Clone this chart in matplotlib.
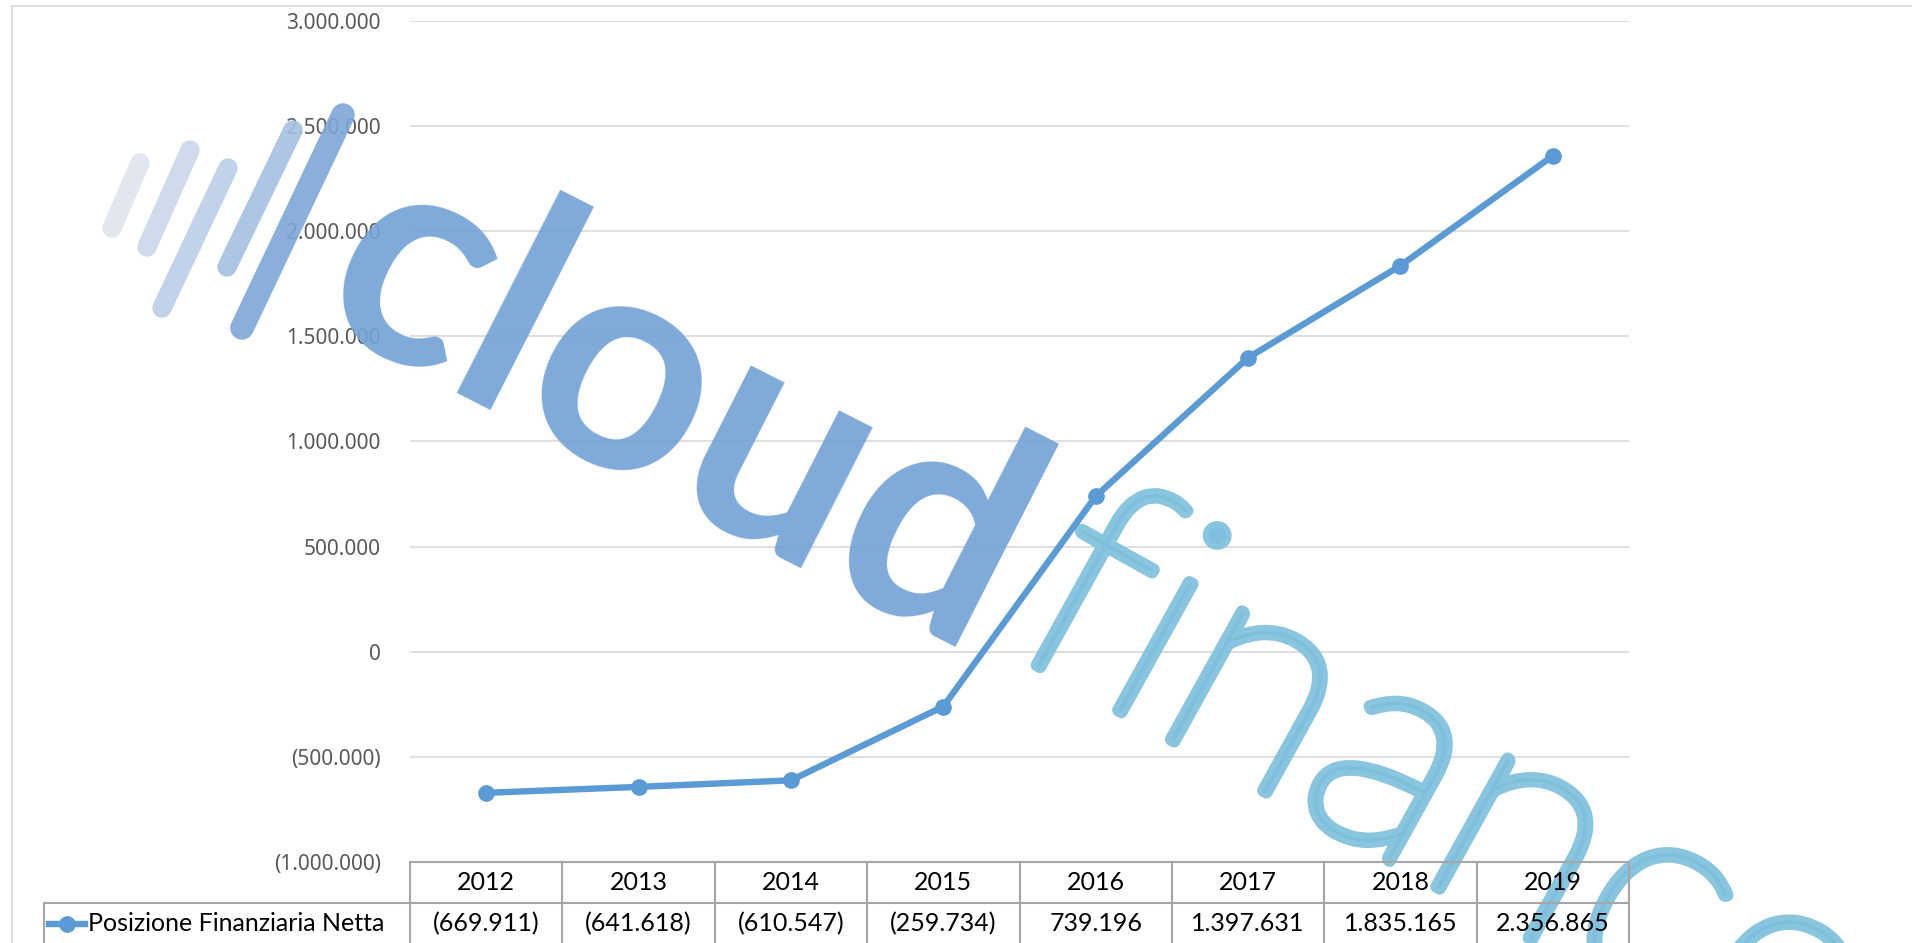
import matplotlib
matplotlib.use("Agg")
import matplotlib.pyplot as plt
import matplotlib.patheffects as pe
from matplotlib.lines import Line2D
from matplotlib.transforms import blended_transform_factory

# data
years = [2012, 2013, 2014, 2015, 2016, 2017, 2018, 2019]
pfn = [-669911, -641618, -610547, -259734, 739196, 1397631, 1835165, 2356865]
series_name = "Posizione Finanziaria Netta"
y_ticks = [-1000000, -500000, 0, 500000, 1000000, 1500000, 2000000, 2500000, 3000000]

LINE_C = "#5b9bd5"
GRID_C = "#d9d9d9"
TABLE_C = "#a6a6a6"
W, H = 1912, 943


def it_fmt(v):
    s = f"{abs(int(v)):,}".replace(",", ".")
    return f"({s})" if v < 0 else s


fig = plt.figure(figsize=(W / 100, H / 100), dpi=100)
fig.patch.set_facecolor("white")

# chart frame (only top and left edges are visible)
fig.add_artist(Line2D([12 / W, 1], [1 - 6 / H] * 2, transform=fig.transFigure, color=GRID_C, lw=1.2))
fig.add_artist(Line2D([12 / W] * 2, [0, 1 - 6 / H], transform=fig.transFigure, color=GRID_C, lw=1.2))

ax_l, ax_r, ax_t, ax_b = 410, 1629, 20.5, 862.3
ax = fig.add_axes([ax_l / W, 1 - ax_b / H, (ax_r - ax_l) / W, (ax_b - ax_t) / H])
x = list(range(len(years)))
ax.plot(x, pfn, color=LINE_C, lw=4.6, marker="o", ms=11, zorder=4, solid_capstyle="round")
ax.set_xlim(-0.5, len(years) - 0.5)
ax.set_ylim(y_ticks[0], y_ticks[-1])
ax.set_yticks(y_ticks)
ax.set_yticklabels([it_fmt(v) for v in y_ticks], family=["Noto Sans", "DejaVu Sans"],
                   fontsize=15, color="#595959")
ax.tick_params(axis="y", length=0, pad=21)
ax.set_xticks([])
ax.grid(axis="y", color=GRID_C, lw=1.2)
ax.set_axisbelow(True)
for sp in ax.spines.values():
    sp.set_visible(False)

# data table under the plot: columns follow the category axis
ax_h = ax_b - ax_t
row_h = 41 / ax_h
tr = blended_transform_factory(ax.transData, ax.transAxes)
tcfg = dict(color=TABLE_C, lw=1.5, clip_on=False, zorder=5)
ax.plot([-0.5, len(years) - 0.5], [0, 0], transform=tr, **tcfg)
ax.plot([-0.5, len(years) - 0.5], [-row_h, -row_h], transform=tr, **tcfg)
for i in range(len(years) + 1):
    ax.plot([i - 0.5, i - 0.5], [0, -2.2 * row_h], transform=tr, **tcfg)
leg_l = (44 - ax_l) / (ax_r - ax_l)
ax.plot([leg_l, 0], [-row_h, -row_h], transform=ax.transAxes, **tcfg)
ax.plot([leg_l, leg_l], [-row_h, -2.2 * row_h], transform=ax.transAxes, **tcfg)

tfont = dict(family="Lato", fontsize=18, color="black", clip_on=False, zorder=6)
for i, (yr, v) in enumerate(zip(years, pfn)):
    ax.text(i, -0.5 * row_h, str(yr), transform=tr, ha="center", va="center", **tfont)
    ax.text(i, -1.5 * row_h, it_fmt(v), transform=tr, ha="center", va="center", **tfont)

# legend key inside the table
px = lambda p: (p - ax_l) / (ax_r - ax_l)
ax.plot([px(49), px(85)], [-1.5 * row_h] * 2, transform=ax.transAxes, color=LINE_C, lw=4.6,
        clip_on=False, zorder=6)
ax.plot([px(67)], [-1.5 * row_h], transform=ax.transAxes, color=LINE_C, marker="o", ms=11,
        clip_on=False, zorder=6)
ax.text(px(88), -1.5 * row_h, series_name, transform=ax.transAxes, ha="left", va="center", **tfont)

# watermark logo
stripes = [((140, 163), (112, 228), "#dfe5ee", 14),
           ((190, 150), (147, 247), "#cad7e9", 14),
           ((228, 168), (162, 308), "#bccde6", 14),
           ((293, 130), (227, 267), "#a5bfe2", 14),
           ((343, 115), (242, 328), "#7ea6d8", 17)]
for (x0, y0), (x1, y1), c, w in stripes:
    fig.add_artist(Line2D([x0 / W, x1 / W], [1 - y0 / H, 1 - y1 / H], transform=fig.transFigure,
                          color=c, lw=w, solid_capstyle="round", alpha=0.9, zorder=3))
ax.text(px(680), 1 - (412 - ax_t) / ax_h, "cloud", transform=ax.transAxes,
        family="Lato", weight="bold", fontsize=220, color="#74a3d6", alpha=0.92,
        rotation=-27, rotation_mode="anchor", ha="center", va="center", clip_on=False, zorder=3)
fin_c = "#7dbfdc"
ax.text(px(1006), 1 - (648 - ax_t) / ax_h, "finance", transform=ax.transAxes,
        family="Lato", weight="light", fontsize=215, color=fin_c, alpha=0.9,
        rotation=-29, rotation_mode="anchor", ha="left", va="baseline", clip_on=False, zorder=3,
        path_effects=[pe.withStroke(linewidth=9, foreground=fin_c)])

fig.savefig("out.png", dpi=100)
